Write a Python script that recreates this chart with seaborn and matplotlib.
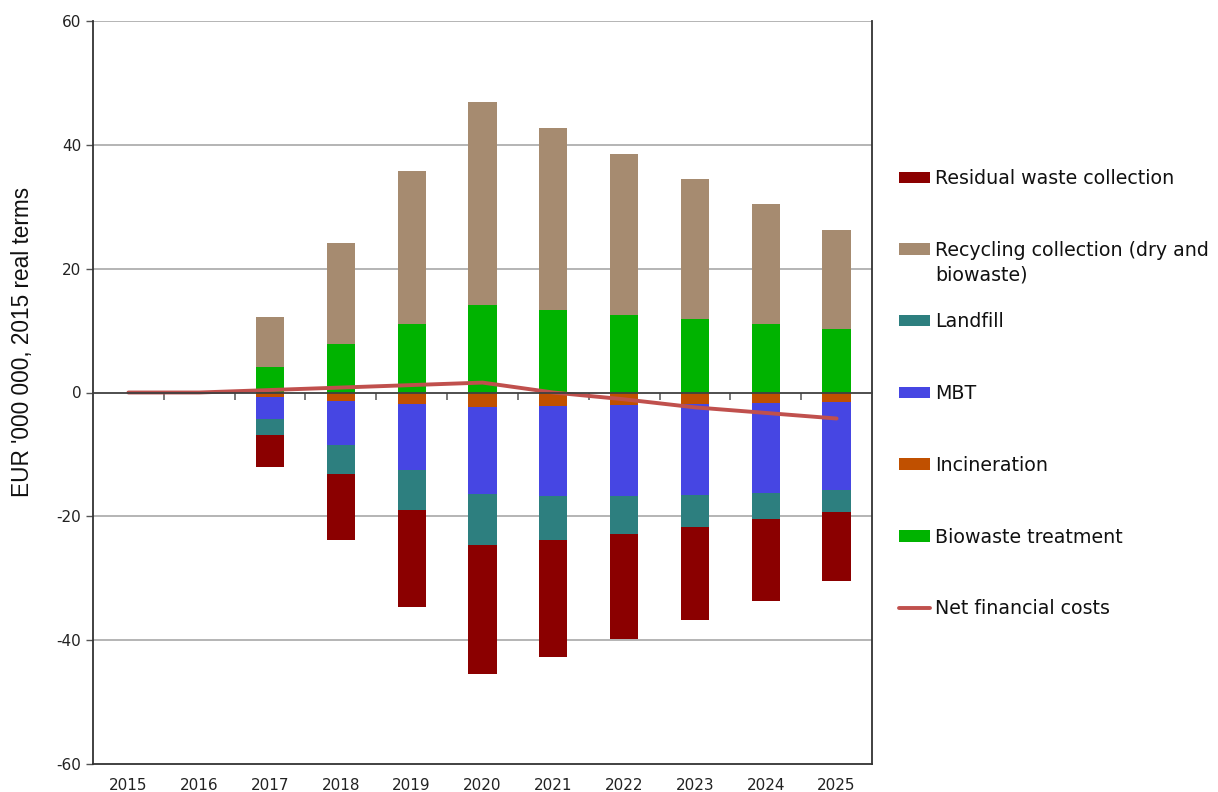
import numpy as np
import pandas as pd
import matplotlib
matplotlib.use("Agg")
import matplotlib.pyplot as plt
import seaborn as sns
from matplotlib.patches import Patch
from matplotlib.lines import Line2D

# Annual cost components, EUR million (2015 real terms)
years = ["2015", "2016", "2017", "2018", "2019", "2020", "2021", "2022", "2023", "2024", "2025"]
biowaste_treatment = [0, 0, 4.1, 7.8, 11.1, 14.2, 13.4, 12.5, 11.8, 11.0, 10.2]
recycling_collection = [0, 0, 8.1, 16.3, 24.6, 32.7, 29.3, 26.1, 22.7, 19.4, 16.1]
incineration = [0, 0, -0.8, -1.3, -1.8, -2.3, -2.1, -2.0, -1.9, -1.7, -1.6]
mbt = [0, 0, -3.5, -7.2, -10.7, -14.1, -14.6, -14.7, -14.7, -14.5, -14.1]
landfill = [0, 0, -2.6, -4.7, -6.5, -8.2, -7.1, -6.2, -5.1, -4.3, -3.6]
residual_collection = [0, 0, -5.2, -10.6, -15.7, -20.9, -18.9, -16.9, -15.1, -13.1, -11.1]
net_costs = [0, 0, 0.4, 0.8, 1.2, 1.6, 0.0, -1.1, -2.4, -3.3, -4.2]

y_ticks = [-60, -40, -20, 0, 20, 40, 60]
y_label = "EUR '000 000, 2015 real terms"

colors = {
    "Residual waste collection": "#8B0000",
    "Recycling collection (dry and biowaste)": "#A68B70",
    "Landfill": "#2D7F7F",
    "MBT": "#4646E3",
    "Incineration": "#C05000",
    "Biowaste treatment": "#00B300",
    "Net financial costs": "#C0504D",
}

sns.set_theme(style="white")
plt.rcParams["font.family"] = ["DejaVu Sans"]

fig = plt.figure(figsize=(12.18, 7.92), dpi=100)
ax = fig.add_axes([93 / 1218, 28 / 792, 779 / 1218, 743 / 792])

# stacking: positive parts grow upward from 0, negative parts downward
pos_series = [("Biowaste treatment", biowaste_treatment),
              ("Recycling collection (dry and biowaste)", recycling_collection)]
neg_series = [("Incineration", incineration), ("MBT", mbt),
              ("Landfill", landfill), ("Residual waste collection", residual_collection)]

for group in (pos_series, neg_series):
    base = np.zeros(len(years))
    for name, vals in group:
        vals = np.asarray(vals, dtype=float)
        df = pd.DataFrame({"year": years, "value": vals})
        sns.barplot(data=df, x="year", y="value", bottom=base, color=colors[name],
                    width=0.4, errorbar=None, saturation=1, linewidth=0, ax=ax)
        base = base + vals

positions = np.arange(len(years))
sns.lineplot(x=positions, y=net_costs, color=colors["Net financial costs"],
             linewidth=2.8, ax=ax)

ax.set_xlim(-0.5, len(years) - 0.5)
ax.set_ylim(-60, 60)
ax.set_yticks(y_ticks)
ax.set_yticklabels([str(v) for v in y_ticks])
ax.set_xticks(positions)
ax.set_xticklabels(years)
ax.set_xlabel("")
ax.set_ylabel(y_label, fontsize=16.3, family=["Liberation Sans", "DejaVu Sans"],
              color="#111111")
ax.yaxis.set_label_coords(-0.0755, 0.568)

# horizontal gridlines
for v in y_ticks:
    if v in (0, -60):
        continue
    ax.axhline(v, color="#A0A0A0", linewidth=1.1, zorder=0)

# category boundary ticks on the zero line
ax.spines["top"].set_position(("data", 0))
ax.spines["top"].set_color("#404040")
ax.spines["top"].set_linewidth(1.3)
ax.set_xticks(np.arange(0.5, len(years) - 1, 1), minor=True)
ax.tick_params(axis="x", which="minor", top=True, bottom=False, direction="in",
               length=5, width=1.1, color="#555555")
ax.tick_params(axis="x", which="major", length=0, top=False, bottom=True, pad=10,
               labelsize=11, labelcolor="#222222")
ax.tick_params(axis="y", which="major", left=True, direction="out", length=5,
               width=1, color="#555555", pad=3.5, labelsize=11, labelcolor="#222222")
for side in ("left", "right", "bottom"):
    ax.spines[side].set_color("#333333")
    ax.spines[side].set_linewidth(1.3)
    ax.spines[side].set_visible(True)

# legend
order = ["Residual waste collection", "Recycling collection (dry and biowaste)", "Landfill",
         "MBT", "Incineration", "Biowaste treatment"]
handles = [Patch(facecolor=colors[n], edgecolor="none") for n in order]
handles.append(Line2D([0], [0], color=colors["Net financial costs"], linewidth=2.8))
labels = ["Residual waste collection", "Recycling collection (dry and", "Landfill",
          "MBT", "Incineration", "Biowaste treatment", "Net financial costs"]
leg = fig.legend(handles, labels, loc="upper left", bbox_to_anchor=(899 / 1218, 1 - 169 / 792),
                 frameon=False, fontsize=13.7, handlelength=1.65, handleheight=0.55,
                 handletextpad=0.25, labelspacing=2.77, borderpad=0, borderaxespad=0)
for t in leg.get_texts():
    t.set_color("#111111")

fig.canvas.draw()
bb = leg.get_texts()[1].get_window_extent()
fig.text(bb.x0 / fig.bbox.width, ((bb.y0 + bb.y1) / 2 - 25) / fig.bbox.height, "biowaste)",
         fontsize=13.7, color="#111111", va="center", ha="left")

fig.savefig("out.png", dpi=100)
